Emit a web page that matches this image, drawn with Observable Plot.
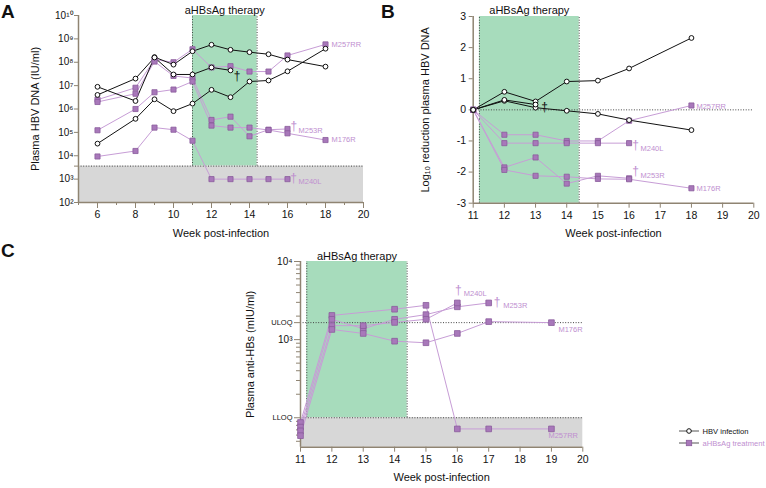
<!DOCTYPE html>
<html><head><meta charset="utf-8">
<script src="https://cdn.jsdelivr.net/npm/d3@7"></script>
<script src="https://cdn.jsdelivr.net/npm/@observablehq/plot@0.6"></script>
<style>
body{margin:0;background:#fff;font-family:"Liberation Sans",Arial,Helvetica,sans-serif;}
#root{position:relative;width:766px;height:488px;overflow:hidden;background:#fff;}
.panel{position:absolute;}
.letter{position:absolute;font-weight:bold;font-size:19px;line-height:1;color:#111;}
</style></head><body>
<div id="root">
  <div class="panel" id="pA" style="left:0;top:0"></div>
  <div class="panel" id="pB" style="left:380px;top:0"></div>
  <div class="panel" id="pC" style="left:200px;top:245px"></div>
  <div class="letter" style="left:1px;top:2px">A</div>
  <div class="letter" style="left:381px;top:2px">B</div>
  <div class="letter" style="left:1px;top:241px">C</div>
  <svg style="position:absolute;left:674px;top:424px" width="92" height="26">
    <line x1="5" y1="7" x2="25" y2="7" stroke="#555" stroke-width="1"/>
    <circle cx="15" cy="7" r="2.3" fill="#fff" stroke="#111" stroke-width="1"/>
    <text x="28.5" y="9.7" font-size="7.6" fill="#111" font-family="Liberation Sans, Arial, sans-serif">HBV infection</text>
    <line x1="5" y1="19" x2="25" y2="19" stroke="#555" stroke-width="1"/>
    <rect x="12.3" y="16.3" width="5.4" height="5.4" fill="#a878ba" stroke="#8a5c9c" stroke-width="0.8"/>
    <text x="28.5" y="21.7" font-size="7.6" fill="#c08fd0" font-family="Liberation Sans, Arial, sans-serif">aHBsAg treatment</text>
  </svg>
</div>
<script>
// ---------------- Panel A: plasma HBV DNA (IU/ml) ----------------
const A_weeks_HBV1 = [6, 8, 9, 10, 11, 12, 13, 14, 15, 16, 18];
const A_HBV1 = [8.9e6, 2.2e6, 1.66e8, 7.9e7, 2.95e8, 5.6e8, 3.4e8, 2.7e8, 2.2e8, 1.3e8, 6.5e7];
const A_weeks_HBV2 = [6, 8, 9, 10, 11, 12, 13];
const A_HBV2 = [4.0e6, 2.0e7, 1.6e8, 3.0e7, 3.0e7, 6.0e7, 4.5e7];
const A_weeks_HBV3 = [6, 8, 9, 10, 11, 12, 13, 14, 15, 16, 18];
const A_HBV3 = [3.3e4, 3.8e5, 2.6e6, 8.1e5, 1.7e6, 6.6e6, 3.2e6, 1.5e7, 1.66e7, 4.1e7, 3.8e8];

const A_weeks_M257RR = [6, 8, 9, 10, 11, 12, 13, 14, 15, 16, 18];
const A_M257RR = [2.5e6, 8.1e6, 1.3e8, 1.0e8, 3.6e8, 6.0e7, 6.8e7, 4.0e7, 4.0e7, 1.95e8, 5.8e8];
const A_weeks_M253R = [6, 8, 9, 10, 11, 12, 13, 14, 15, 16];
const A_M253R = [2.0e6, 4.5e6, 1.07e8, 2.6e7, 2.1e7, 3.4e5, 4.7e5, 6.8e4, 1.3e5, 1.4e5];
const A_weeks_M176R = [6, 8, 9, 10, 11, 12, 13, 14, 15, 16, 18];
const A_M176R = [1.23e5, 1.0e6, 5.2e6, 6.8e6, 1.5e7, 1.95e5, 1.6e5, 1.6e5, 1.26e5, 9.1e4, 4.7e4];
const A_weeks_M240L = [6, 8, 9, 10, 11, 12, 13, 14, 15, 16];
const A_M240L = [9.3e3, 1.6e4, 1.6e5, 1.3e5, 4.4e4, 1e3, 1e3, 1e3, 1e3, 1e3];

const A_LOD = 3600;
const A_THERAPY = [11, 14.4];
const A_X_MAJOR = [6, 8, 10, 12, 14, 16, 18, 20];
const A_X_MINOR = [5, 7, 9, 11, 13, 15, 17, 19];
const A_Y_TICKS = [1e2, 1e3, 1e4, 1e5, 1e6, 1e7, 1e8, 1e9, 1e10];

// ---------------- Panel B: log10 reduction plasma HBV DNA ----------------
const B_weeks_HBV1 = [11, 12, 13, 14, 15, 16, 18];
const B_HBV1 = [0, 0.58, 0.27, 0.91, 0.94, 1.33, 2.31];
const B_weeks_HBV2 = [11, 12, 13, 14, 15, 16, 18];
const B_HBV2 = [0, 0.29, 0.07, -0.03, -0.13, -0.33, -0.65];
const B_weeks_HBV3 = [11, 12, 13];
const B_HBV3 = [0, 0.32, 0.17];

const B_weeks_M257RR = [11, 12, 13, 14, 15, 16, 18];
const B_M257RR = [0, -0.8, -0.8, -1.0, -1.0, -0.35, 0.14];
const B_weeks_M240L = [11, 12, 13, 14, 15, 16];
const B_M240L = [0, -1.07, -1.07, -1.07, -1.07, -1.07];
const B_weeks_M253R = [11, 12, 13, 14, 15, 16];
const B_M253R = [0, -1.85, -1.53, -2.37, -2.12, -2.2];
const B_weeks_M176R = [11, 12, 13, 14, 15, 16, 18];
const B_M176R = [0, -1.93, -2.12, -2.15, -2.22, -2.23, -2.52];

const BC_THERAPY = [11.2, 14.4];
const B_X_TICKS = [11, 12, 13, 14, 15, 16, 17, 18, 19, 20];
const B_Y_TICKS = [-3, -2, -1, 0, 1, 2, 3];

// ---------------- Panel C: plasma anti-HBs (mIU/ml) ----------------
const C_weeks_M257RR = [11, 12, 14, 15, 16, 17, 19];
const C_M257RR = [87, 2040, 2450, 2750, 72, 72, 72];
const C_weeks_M253R = [11, 12, 13, 14, 15, 16, 17];
const C_M253R = [76, 1820, 1380, 1820, 2090, 2630, 2950];
const C_weeks_M240L = [11, 12, 13, 14, 15, 16];
const C_M240L = [68, 1510, 1510, 1660, 1820, 2950];
const C_weeks_M176R = [11, 12, 13, 14, 15, 16, 17, 19];
const C_M176R = [59, 1350, 1200, 955, 912, 1200, 1700, 1650];

const C_ULOQ = 1650;
const C_LLOQ = 100;
const C_Y_MIN = 42;
const C_Y_MAJOR = [1e3, 1e4];
const C_Y_MINOR = [50, 60, 70, 80, 90, 200, 300, 400, 500, 600, 700, 800, 900,
                   2000, 3000, 4000, 5000, 6000, 7000, 8000, 9000];

// ---------------- styling ----------------
const FONT = "'Liberation Sans', Arial, Helvetica, sans-serif";
const AX = "#8f8472", TXT = "#111", BLACK = "#111";
const PLINE = "#c79dd6", PFILL = "#a878ba", PSTROKE = "#8a5c9c", PTEXT = "#c08fd0";
const GREEN = "#a7dcbc", GRAY = "#d7d7d7", DOT = "#444";
const STYLE = {fontFamily: FONT, fontSize: "10px", background: "transparent", overflow: "visible", color: TXT};

const SUP = {"0":"⁰","1":"¹","2":"²","3":"³","4":"⁴","5":"⁵","6":"⁶","7":"⁷","8":"⁸","9":"⁹"};
const pow10 = d => "10" + String(Math.round(Math.log10(d))).split("").map(c => SUP[c]).join("");

const series = (name, weeks, values) => weeks.map((w, i) => ({name, week: w, value: values[i]}));
const last = rows => [rows[rows.length - 1]];

function lineMarks(hbv, tx) {
  return [
    Plot.line(tx, {x: "week", y: "value", z: "name", stroke: PLINE, strokeWidth: 1}),
    Plot.line(hbv, {x: "week", y: "value", z: "name", stroke: BLACK, strokeWidth: 1}),
    Plot.dot(tx, {x: "week", y: "value", symbol: "square", r: 2.9, fill: PFILL, stroke: PSTROKE, strokeWidth: 0.8}),
    Plot.dot(hbv, {x: "week", y: "value", r: 2.4, fill: "white", stroke: BLACK, strokeWidth: 1})
  ];
}
const lab = (data, text, o) => Plot.text(data, {x: "week", y: "value", text: () => text, textAnchor: "start", fill: PTEXT, fontSize: 7.5, ...o});
const dag = (data, o) => Plot.text(data, {x: "week", y: "value", text: () => "†", textAnchor: "middle", fill: PTEXT, fontSize: 12, ...o});
const yTitle = (text, dx) => Plot.text([text], {frameAnchor: "left", textAnchor: "middle", dx, rotate: -90, fontSize: 11, fill: TXT});
const xTitle = text => Plot.text([text], {frameAnchor: "bottom", textAnchor: "middle", dy: 34, fontSize: 11, fill: TXT});

// ---------------- Panel A ----------------
{
  const hbv = [...series("H1", A_weeks_HBV1, A_HBV1), ...series("H2", A_weeks_HBV2, A_HBV2), ...series("H3", A_weeks_HBV3, A_HBV3)];
  const m257 = series("M257RR", A_weeks_M257RR, A_M257RR);
  const m253 = series("M253R", A_weeks_M253R, A_M253R);
  const m176 = series("M176R", A_weeks_M176R, A_M176R);
  const m240 = series("M240L", A_weeks_M240L, A_M240L);
  const tx = [...m257, ...m253, ...m176, ...m240];
  const h2 = series("H2", A_weeks_HBV2, A_HBV2);
  const plot = Plot.plot({
    width: 372, height: 245, marginLeft: 78, marginRight: 9, marginTop: 15, marginBottom: 43,
    style: STYLE,
    x: {domain: [5, 20], label: null},
    y: {type: "log", domain: [1e2, 1e10], label: null},
    marks: [
      Plot.rect([0], {x1: A_THERAPY[0], x2: A_THERAPY[1], y1: A_LOD, y2: 1e10, fill: GREEN}),
      Plot.rect([0], {x1: 5, x2: 20, y1: 1e2, y2: A_LOD, fill: GRAY}),
      Plot.ruleX(A_THERAPY, {y1: A_LOD, y2: 1e10, stroke: DOT, strokeWidth: 1, strokeDasharray: "1,1.6"}),
      Plot.ruleY([A_LOD], {x1: 5, x2: 20, stroke: DOT, strokeWidth: 1, strokeDasharray: "1,1.6"}),
      Plot.ruleY([1e2], {x1: 5, x2: 20, stroke: AX, strokeWidth: 1.5}),
      Plot.ruleX([5], {y1: 1e2, y2: 1e10, stroke: AX, strokeWidth: 1.5}),
      Plot.axisX(A_X_MAJOR, {tickSize: 6, tickPadding: 2, stroke: AX, color: TXT, fill: TXT, fontSize: 10.5, label: null}),
      Plot.axisX(A_X_MINOR, {tickSize: 3, stroke: AX, tickFormat: () => "", label: null}),
      Plot.axisY(A_Y_TICKS, {tickSize: 4, tickPadding: 1, stroke: AX, color: TXT, fill: TXT, fontSize: 10, tickFormat: pow10, label: null}),
      Plot.axisY([A_LOD], {tickSize: 4, tickPadding: 2, stroke: AX, color: TXT, fill: TXT, fontSize: 7.5, tickFormat: () => "LOD", label: null}),
      ...lineMarks(hbv, tx),
      lab(last(m257), "M257RR", {dx: 6}),
      dag(last(m253), {dx: 6.3, dy: -3}),
      lab(last(m253), "M253R", {dx: 11, dy: 1.5}),
      lab(last(m176), "M176R", {dx: 6}),
      dag(last(m240), {dx: 6, dy: -0.5}),
      lab(last(m240), "M240L", {dx: 11, dy: 2}),
      dag(last(h2), {dx: 6.7, dy: 5.7, fill: BLACK}),
      Plot.text([0], {x: (A_THERAPY[0] + A_THERAPY[1]) / 2, y: 1e10, text: () => "aHBsAg therapy", dy: -5.5, fontSize: 11, fill: TXT}),
      xTitle("Week post-infection"),
      yTitle("Plasma HBV DNA (IU/ml)", -43)
    ]
  });
  document.getElementById("pA").appendChild(plot);
}

// ---------------- Panel B ----------------
{
  const hbv = [...series("H1", B_weeks_HBV1, B_HBV1), ...series("H2", B_weeks_HBV2, B_HBV2), ...series("H3", B_weeks_HBV3, B_HBV3)];
  const h3 = series("H3", B_weeks_HBV3, B_HBV3);
  const m257 = series("M257RR", B_weeks_M257RR, B_M257RR);
  const m240 = series("M240L", B_weeks_M240L, B_M240L);
  const m253 = series("M253R", B_weeks_M253R, B_M253R);
  const m176 = series("M176R", B_weeks_M176R, B_M176R);
  const tx = [...m257, ...m240, ...m253, ...m176];
  const plot = Plot.plot({
    width: 386, height: 245, marginLeft: 92.7, marginRight: 12.7, marginTop: 16, marginBottom: 42.3,
    style: STYLE,
    x: {domain: [11, 20], label: null},
    y: {domain: [-3, 3], label: null},
    marks: [
      Plot.rect([0], {x1: BC_THERAPY[0], x2: BC_THERAPY[1], y1: -3, y2: 3, fill: GREEN}),
      Plot.ruleX(BC_THERAPY, {y1: -3, y2: 3, stroke: DOT, strokeWidth: 1, strokeDasharray: "1,1.6"}),
      Plot.ruleY([0], {x1: 11, x2: 20, stroke: DOT, strokeWidth: 1, strokeDasharray: "1,1.6"}),
      Plot.ruleY([-3], {x1: 11, x2: 20, stroke: AX, strokeWidth: 1.5}),
      Plot.ruleX([11], {y1: -3, y2: 3, stroke: AX, strokeWidth: 1.5}),
      Plot.axisX(B_X_TICKS, {tickSize: 5, tickPadding: 3, stroke: AX, color: TXT, fill: TXT, fontSize: 10.5, label: null}),
      Plot.axisY(B_Y_TICKS, {tickSize: 4, tickPadding: 3, stroke: AX, color: TXT, fill: TXT, fontSize: 10.5, tickFormat: d => String(d), label: null}),
      ...lineMarks(hbv, tx),
      lab(last(m257), "M257RR", {dx: 5, dy: 1}),
      dag(last(m240), {dx: 6.4, dy: 2}),
      lab(last(m240), "M240L", {dx: 11.4, dy: 5}),
      dag(last(m253), {dx: 6.4, dy: -7}),
      lab(last(m253), "M253R", {dx: 11.4, dy: -3}),
      lab(last(m176), "M176R", {dx: 5, dy: 0.5}),
      dag(last(h3), {dx: 9, dy: 2.5, fill: BLACK}),
      Plot.text([0], {x: (BC_THERAPY[0] + BC_THERAPY[1]) / 2, y: 3, text: () => "aHBsAg therapy", dy: -6, fontSize: 11, fill: TXT}),
      xTitle("Week post-infection"),
      yTitle("Log₁₀ reduction plasma HBV DNA", -47.7)
    ]
  });
  document.getElementById("pB").appendChild(plot);
}

// ---------------- Panel C ----------------
{
  const m257 = series("M257RR", C_weeks_M257RR, C_M257RR);
  const m253 = series("M253R", C_weeks_M253R, C_M253R);
  const m240 = series("M240L", C_weeks_M240L, C_M240L);
  const m176 = series("M176R", C_weeks_M176R, C_M176R);
  const tx = [...m257, ...m253, ...m240, ...m176];
  const plot = Plot.plot({
    width: 400, height: 243, marginLeft: 100, marginRight: 17.7, marginTop: 16, marginBottom: 41.3,
    style: STYLE,
    x: {domain: [11, 20], label: null},
    y: {type: "log", domain: [C_Y_MIN, 1e4], label: null},
    marks: [
      Plot.rect([0], {x1: BC_THERAPY[0], x2: BC_THERAPY[1], y1: C_LLOQ, y2: 1e4, fill: GREEN}),
      Plot.rect([0], {x1: 11, x2: 20, y1: C_Y_MIN, y2: C_LLOQ, fill: GRAY}),
      Plot.ruleX(BC_THERAPY, {y1: C_LLOQ, y2: 1e4, stroke: DOT, strokeWidth: 1, strokeDasharray: "1,1.6"}),
      Plot.ruleY([C_ULOQ, C_LLOQ], {x1: 11, x2: 20, stroke: DOT, strokeWidth: 1, strokeDasharray: "1,1.6"}),
      Plot.ruleY([C_Y_MIN], {x1: 11, x2: 20, stroke: AX, strokeWidth: 1.5}),
      Plot.ruleX([11], {y1: C_Y_MIN, y2: 1e4, stroke: AX, strokeWidth: 1.5}),
      Plot.axisX(B_X_TICKS, {tickSize: 5, tickPadding: 3, stroke: AX, color: TXT, fill: TXT, fontSize: 10.5, label: null}),
      Plot.axisY(C_Y_MAJOR, {tickSize: 6, tickPadding: 2, stroke: AX, color: TXT, fill: TXT, fontSize: 10, tickFormat: pow10, label: null}),
      Plot.axisY([C_ULOQ], {tickSize: 6, tickPadding: 2, stroke: AX, color: TXT, fill: TXT, fontSize: 7.5, tickFormat: () => "ULOQ", label: null}),
      Plot.axisY([C_LLOQ], {tickSize: 6, tickPadding: 2, stroke: AX, color: TXT, fill: TXT, fontSize: 7.5, tickFormat: () => "LLOQ", label: null}),
      Plot.axisY(C_Y_MINOR, {tickSize: 4, stroke: AX, tickFormat: () => "", label: null}),
      Plot.line(tx, {x: "week", y: "value", z: "name", stroke: PLINE, strokeWidth: 1}),
      Plot.dot(tx, {x: "week", y: "value", symbol: "square", r: 3.2, fill: PFILL, stroke: PSTROKE, strokeWidth: 0.8}),
      dag(last(m240), {dx: 1, dy: -12.6}),
      lab(last(m240), "M240L", {dx: 6.4, dy: -9.3}),
      dag(last(m253), {dx: 8.5, dy: -0.5}),
      lab(last(m253), "M253R", {dx: 14.5, dy: 2.4}),
      lab(last(m176), "M176R", {dx: 7, dy: 6.6}),
      lab(last(m257), "M257RR", {dx: -3, dy: 6.3}),
      Plot.text([0], {x: (BC_THERAPY[0] + BC_THERAPY[1]) / 2, y: 1e4, text: () => "aHBsAg therapy", dy: -5, fontSize: 11, fill: TXT}),
      xTitle("Week post-infection"),
      yTitle("Plasma anti-HBs (mIU/ml)", -50)
    ]
  });
  document.getElementById("pC").appendChild(plot);
}
</script>
</body></html>
